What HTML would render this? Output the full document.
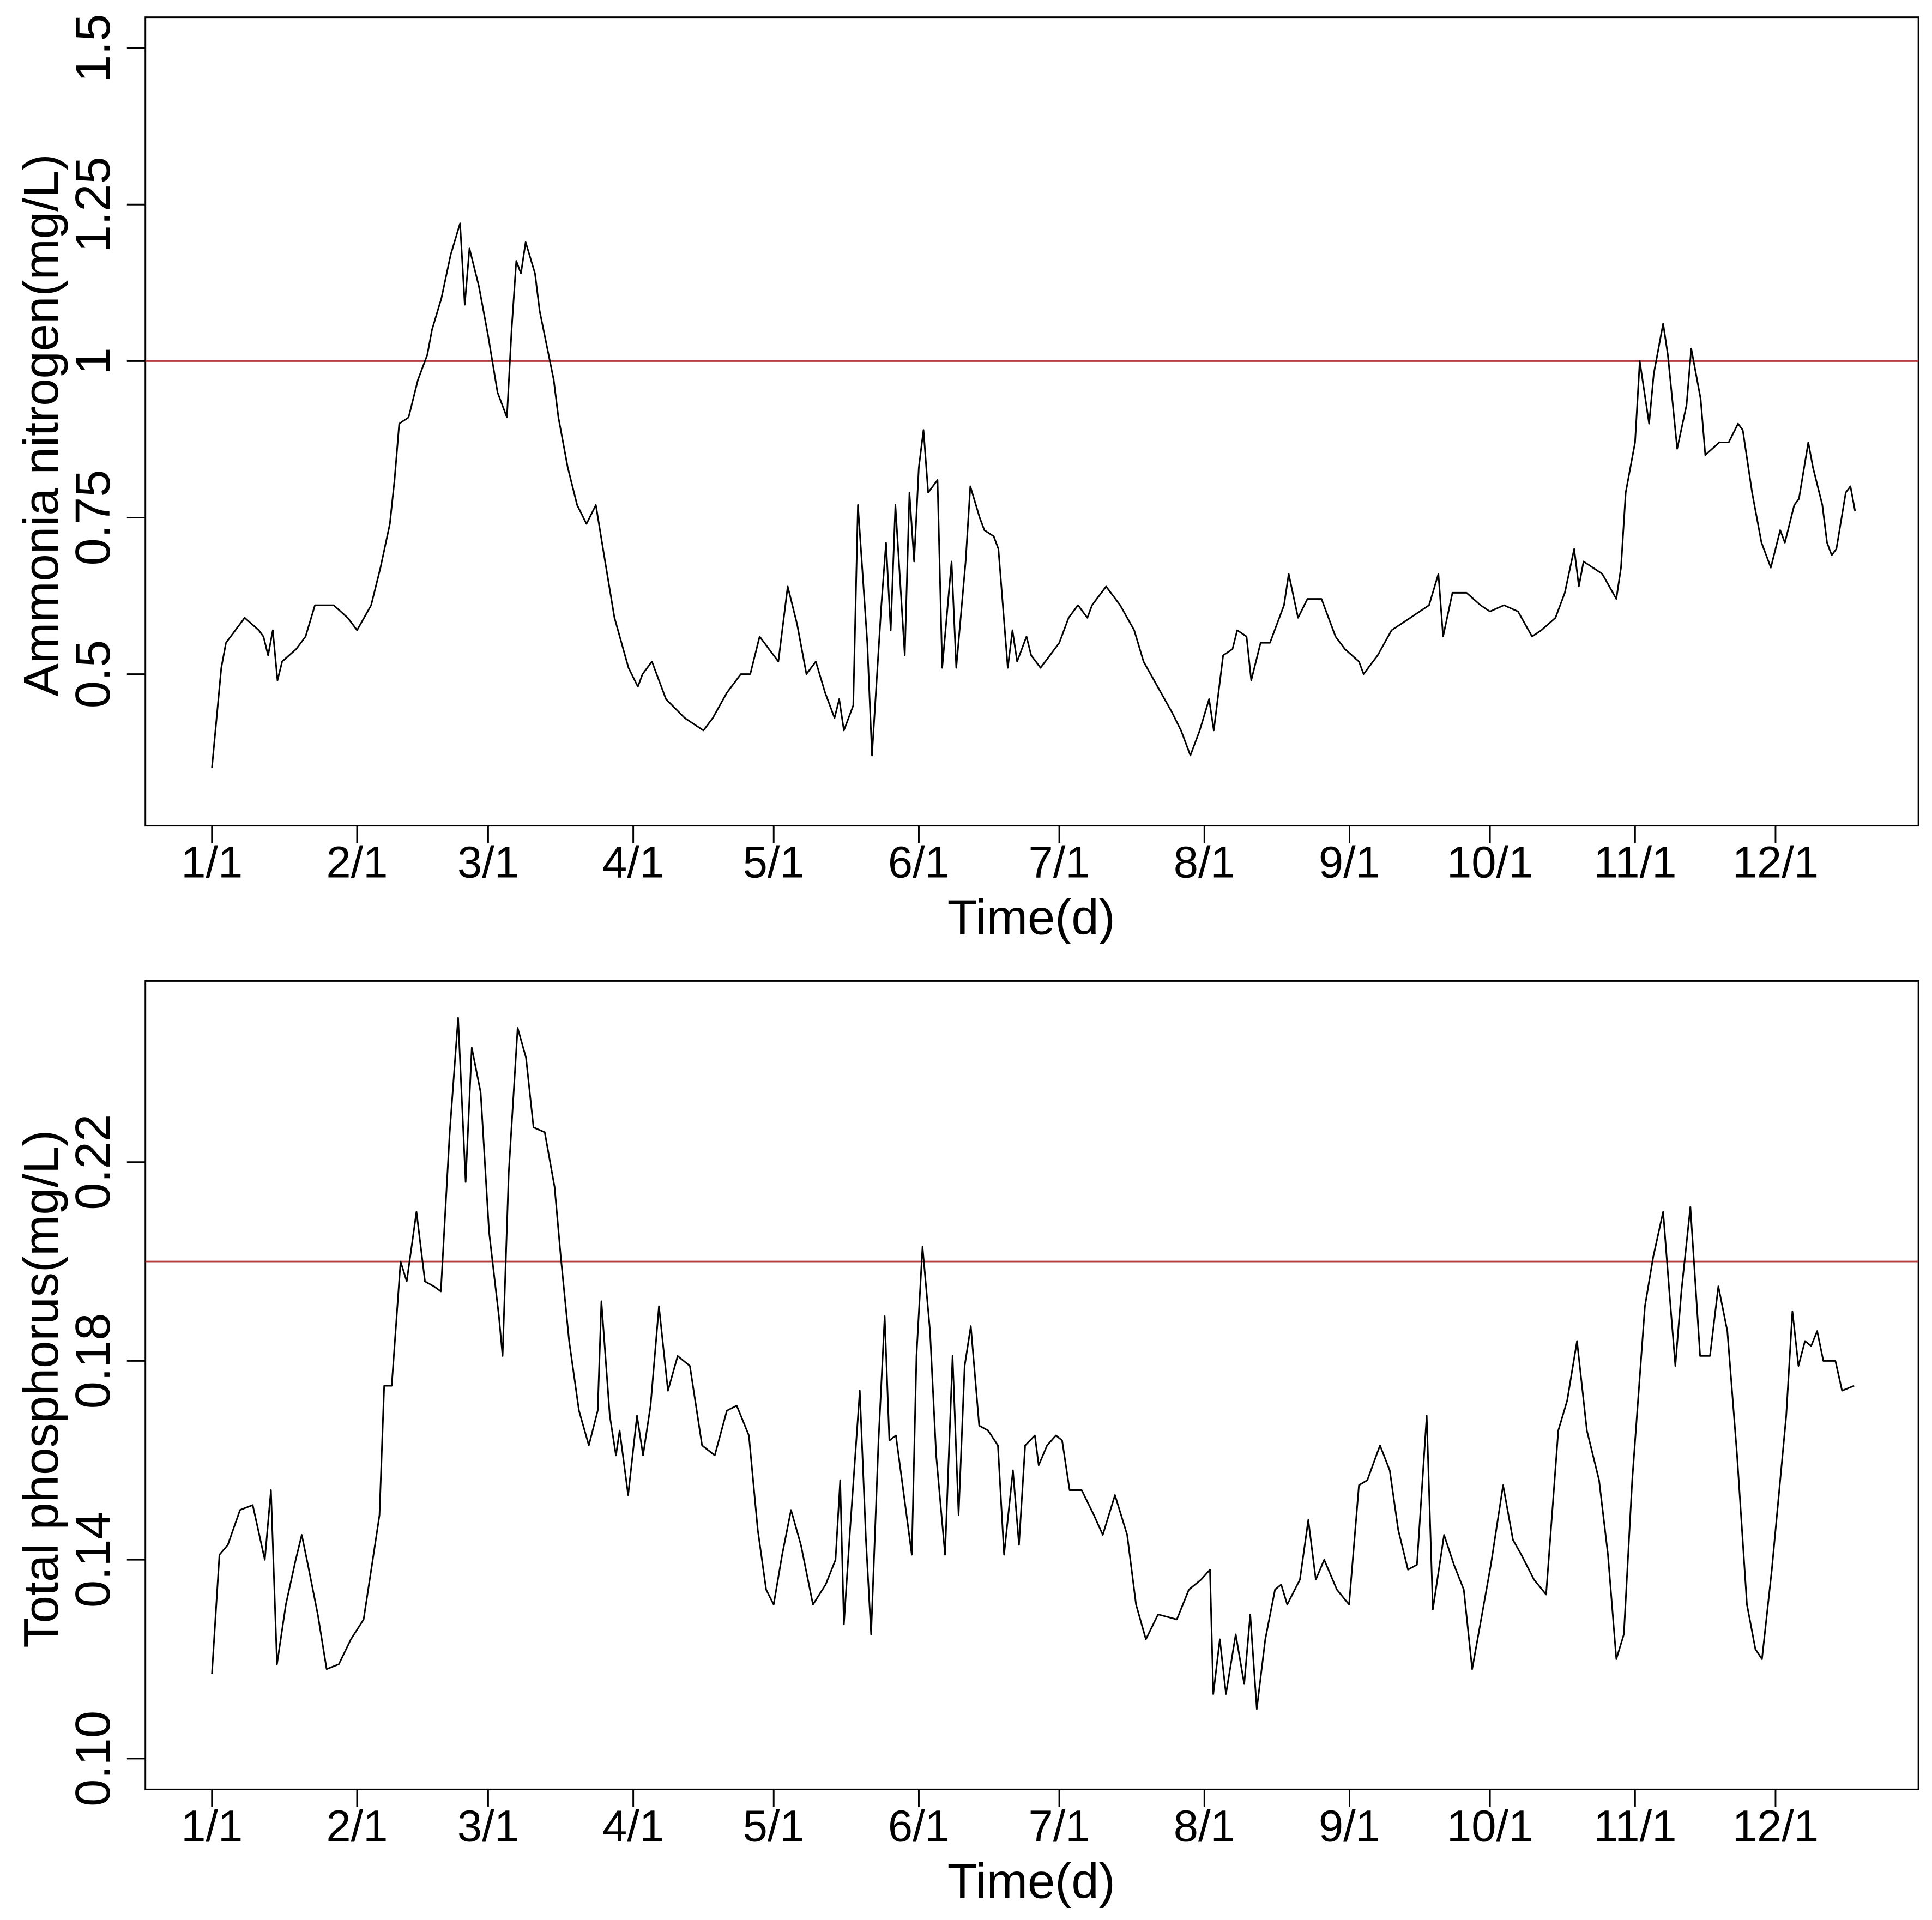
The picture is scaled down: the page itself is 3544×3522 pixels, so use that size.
<!DOCTYPE html>
<html><head><meta charset="utf-8">
<style>
html,body{margin:0;padding:0;background:#fff;}
svg{display:block;}
text{font-family:"Liberation Sans",Arial,sans-serif;fill:#000;}
</style></head>
<body>
<svg id="chart" width="3544" height="3522" viewBox="0 0 1568 1558" preserveAspectRatio="none" xmlns="http://www.w3.org/2000/svg">
<rect x="0" y="0" width="1568" height="1558" fill="#fff"/>
</svg>
<script>
const monthLabels = ["1/1","2/1","3/1","4/1","5/1","6/1","7/1","8/1","9/1","10/1","11/1","12/1"];
const monthDays = [0,31,59,90,120,151,181,212,243,273,304,334];
const nh3Ticks = [0.5,0.75,1,1.25,1.5];
const nh3TickLabels = ["0.5","0.75","1","1.25","1.5"];
const tpTicks = [0.10,0.14,0.18,0.22];
const tpTickLabels = ["0.10","0.14","0.18","0.22"];
const nh3Limit = 1.0;
const tpLimit = 0.20;
const nh3Days = [0,2,3,7,10,11,12,13,14,15,18,20,22,26,29,31,34,36,38,39,40,42,44,46,47,49,51,53,54,55,57,59,61,63,64,65,66,67,69,70,73,74,76,78,80,82,84,86,89,91,92,94,97,101,105,107,110,113,115,117,119,121,123,125,127,129,131,133,134,135,137,138,140,141,143,144,145,146,148,149,150,151,152,153,155,156,158,159,161,162,164,165,167,168,170,171,172,174,175,177,179,181,183,185,187,188,191,194,197,199,202,205,207,209,211,213,214,216,218,219,221,222,224,226,229,230,232,234,237,240,242,245,246,249,252,254,256,260,262,263,265,268,271,273,276,279,282,284,287,289,291,292,293,297,300,301,302,304,305,307,308,310,311,313,315,316,318,319,322,324,326,327,329,331,333,335,336,338,339,341,342,344,345,346,347,349,350,351];
const nh3Values = [.35,.51,.55,.59,.57,.56,.53,.57,.49,.52,.54,.56,.61,.61,.59,.57,.61,.67,.74,.81,.90,.91,.97,1.01,1.05,1.10,1.17,1.22,1.09,1.18,1.12,1.04,.95,.91,1.05,1.16,1.14,1.19,1.14,1.08,.97,.91,.83,.77,.74,.77,.68,.59,.51,.48,.50,.52,.46,.43,.41,.43,.47,.50,.50,.56,.54,.52,.64,.58,.50,.52,.47,.43,.46,.41,.45,.77,.55,.37,.61,.71,.57,.77,.53,.79,.68,.83,.89,.79,.81,.51,.68,.51,.68,.80,.75,.73,.72,.70,.51,.57,.52,.56,.53,.51,.53,.55,.59,.61,.59,.61,.64,.61,.57,.52,.48,.44,.41,.37,.41,.46,.41,.53,.54,.57,.56,.49,.55,.55,.61,.66,.59,.62,.62,.56,.54,.52,.50,.53,.57,.58,.59,.61,.66,.56,.63,.63,.61,.60,.61,.60,.56,.57,.59,.63,.70,.64,.68,.66,.62,.67,.79,.87,1.00,.90,.98,1.06,1.01,.86,.93,1.02,.94,.85,.87,.87,.90,.89,.79,.71,.67,.73,.71,.77,.78,.87,.83,.77,.71,.69,.70,.79,.80,.76];
const tpDays = [0,1.6,3.4,6,8.7,11.3,12.6,13.9,15.8,17.9,19.2,20.5,22.6,24.5,27.1,29.7,32.4,34.2,35.8,36.8,38.4,40.3,41.6,43.7,45.5,47.4,48.9,50.8,52.6,54.2,55.5,57.4,59.2,61.3,62.1,63.4,65.3,67.1,68.7,71.1,73.2,74.5,76.3,78.4,80.5,82.4,83.2,85,86.3,87.1,88.9,90.8,92.1,93.7,95.5,97.4,99.5,102.1,104.7,107.4,110,112.1,114.7,116.6,118.4,120,121.8,123.7,125.8,128.4,131.1,133.2,134.2,135,136.3,138.4,139.7,140.8,142.4,143.7,144.7,146.1,147.4,149.5,150.5,151.8,153.4,154.7,156.6,158.2,159.5,160.8,162.1,163.9,165.8,167.9,169.2,171.1,172.4,173.7,175.8,176.6,178.4,180.3,181.6,183.2,185.8,188.4,190.3,192.9,195.5,197.4,199.5,202.1,206.1,208.7,211.3,213.2,213.9,215.3,216.6,218.7,220.5,221.8,223.2,225,227.1,228.4,229.7,232.4,234.2,235.8,237.6,240.3,242.9,245,246.8,249.5,251.6,253.4,255.5,257.4,259.5,260.8,263.2,265.3,267.4,269.2,271.3,273.2,275.8,277.9,279.7,282.4,285,287.6,289.5,291.6,293.7,296.3,298.2,300,301.6,303.4,306.1,307.9,310,311.3,312.6,313.9,315.8,317.9,320,321.8,323.7,325.8,327.9,329.7,331.1,333.2,335,336.3,337.6,338.9,340.3,341.6,342.9,344.2,346.8,348.2,350.8];
const tpValues = [.117,.141,.143,.150,.151,.140,.154,.119,.131,.140,.145,.139,.129,.118,.119,.124,.128,.139,.149,.175,.175,.200,.196,.210,.196,.195,.194,.226,.249,.216,.243,.234,.206,.189,.181,.218,.247,.241,.227,.226,.215,.201,.184,.170,.163,.170,.192,.169,.161,.166,.153,.169,.161,.171,.191,.174,.181,.179,.163,.161,.170,.171,.165,.146,.134,.131,.141,.150,.143,.131,.135,.140,.156,.127,.146,.174,.144,.125,.164,.189,.164,.165,.156,.141,.181,.203,.186,.161,.141,.181,.149,.179,.187,.167,.166,.163,.141,.158,.143,.163,.165,.159,.163,.165,.164,.154,.154,.149,.145,.153,.145,.131,.124,.129,.128,.134,.136,.138,.113,.124,.113,.125,.115,.129,.110,.124,.134,.135,.131,.136,.148,.136,.140,.134,.131,.155,.156,.163,.158,.146,.138,.139,.169,.130,.145,.139,.134,.118,.129,.139,.155,.144,.141,.136,.133,.166,.172,.184,.166,.156,.141,.120,.125,.156,.191,.201,.210,.194,.179,.194,.211,.181,.181,.195,.186,.161,.131,.122,.120,.138,.156,.169,.190,.179,.184,.183,.186,.180,.180,.174,.175];

const NS="http://www.w3.org/2000/svg";
const svg=document.getElementById('chart');
function mk(tag,attrs,parent){const e=document.createElementNS(NS,tag);for(const k in attrs)e.setAttribute(k,attrs[k]);(parent||svg).appendChild(e);return e;}
const xScale=d=>172+d*(1441-172)/334;

function panel(opts){
  const g=mk('g',{});
  
  
  const yS=v=>opts.y0px+(v-opts.v0)*(opts.y1px-opts.y0px)/(opts.v1-opts.v0);
  const box=mk('rect',{x:118,y:opts.top,width:1439,height:656,fill:'none',stroke:'#000','stroke-width':1.3},g);
  
  
  opts.ticks.forEach((t,i)=>{
    const y=yS(t);
    const tk=mk('line',{x1:103,x2:118,y1:y,y2:y,stroke:'#000','stroke-width':1.3},g);
    
    
    const tx=mk('text',{x:0,y:0,'font-size':40,'text-anchor':'middle',transform:`translate(89,${y}) rotate(-90)`},g);
    tx.textContent=opts.tickLabels[i];
    
    
  });
  const bottom=opts.top+656;
  monthDays.forEach((d,i)=>{
    const x=xScale(d);
    const tk=mk('line',{x1:x,x2:x,y1:bottom,y2:bottom+14,stroke:'#000','stroke-width':1.3},g);
    
    
    const tx=mk('text',{x:x,y:bottom+42,'font-size':36,'text-anchor':'middle'},g);
    tx.textContent=monthLabels[i];
    
    
  });
  const xt=mk('text',{x:837,y:bottom+88,'font-size':40,'text-anchor':'middle'},g);
  xt.textContent='Time(d)';
  
  
  const yt=mk('text',{x:0,y:0,'font-size':40,'text-anchor':'middle',transform:`translate(47,${opts.top+331}) rotate(-90)`},g);
  yt.textContent=opts.title;
  
  
  const ly=yS(opts.limit);
  const lim=mk('line',{x1:118,x2:1557,y1:ly,y2:ly,stroke:'#b04040','stroke-width':1.3},g);
  
  
  const pts=opts.days.map((d,i)=>xScale(d).toFixed(1)+','+yS(opts.values[i]).toFixed(1)).join(' ');
  const pl=mk('polyline',{points:pts,fill:'none',stroke:'#000','stroke-width':1.3,'stroke-linejoin':'round'},g);
  
  
}
panel({name:'ammonia-panel',top:14,v0:0.5,v1:1.5,y0px:547,y1px:39,ticks:nh3Ticks,tickLabels:nh3TickLabels,
  title:'Ammonia nitrogen(mg/L)',limit:nh3Limit,days:nh3Days,values:nh3Values,seriesName:'ammonia-series'});
panel({name:'phosphorus-panel',top:796,v0:0.10,v1:0.22,y0px:1427,y1px:943,ticks:tpTicks,tickLabels:tpTickLabels,
  title:'Total phosphorus(mg/L)',limit:tpLimit,days:tpDays,values:tpValues,seriesName:'phosphorus-series'});
</script>
</body></html>
